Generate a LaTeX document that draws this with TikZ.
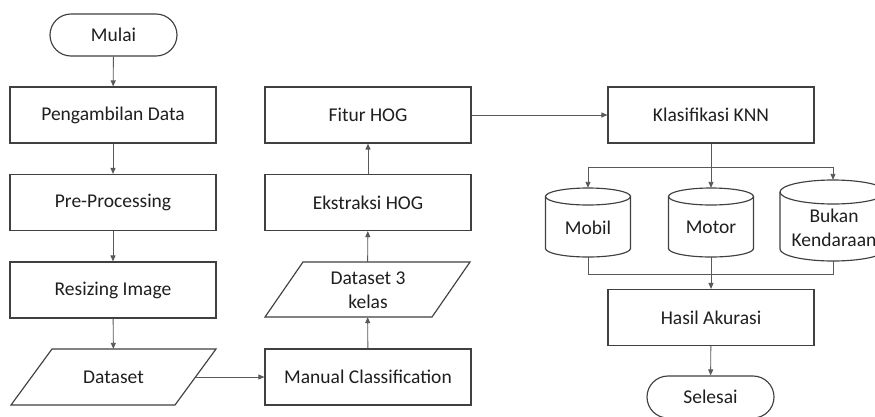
\documentclass[tikz,border=0pt]{standalone}
\usepackage{fontspec}
\setmainfont{Carlito}
\usetikzlibrary{arrows.meta,calc}
\newcommand\mycyl[5]{%
  \draw[boxline] (#1,#3+#5) ellipse ({#2} and {#5});
  \draw[boxline] (#1-#2,#3+#5) -- (#1-#2,#4-#5)
    .. controls (#1-#2,#4-#5+0.5523*#5) and (#1-0.5523*#2,#4) .. (#1,#4)
    .. controls (#1+0.5523*#2,#4) and (#1+#2,#4-#5+0.5523*#5) .. (#1+#2,#4-#5)
    -- (#1+#2,#3+#5);}
\tikzset{
  boxline/.style={draw=black!75, line width=1.15pt},
  proc/.style={boxline, rectangle, minimum width=206pt, minimum height=56pt, inner sep=0pt, text=black!88},
  term/.style={boxline, rectangle, rounded corners=21pt, minimum width=127pt, minimum height=42pt, inner sep=0pt, text=black!88},
  anchorbox/.style={draw=none, rectangle, inner sep=0pt},
  lbl/.style={text=black!88, inner sep=0pt, align=center},
  conn/.style={draw=black!65, line width=0.9pt},
  arr/.style={conn, -{Triangle[length=6pt,width=5pt]}},
}
\begin{document}
\begin{tikzpicture}[x=1pt,y=-1pt,font=\fontsize{19.5}{24}\selectfont]
\useasboundingbox (0,0) rectangle (875,416);
\clip (0,0) rectangle (875,416);
\fill[white] (0,0) rectangle (875,416);

% left column
\node[term] (mulai) at (113.5,35) {Mulai};
\node[proc] (ambil) at (113,115) {Pengambilan Data};
\node[proc] (pre) at (113,202.5) {Pre-Processing};
\node[proc] (resize) at (113,290) {Resizing Image};
\node[anchorbox, minimum width=164pt, minimum height=56pt] (dataset) at (113.5,377) {};
\draw[boxline] (11,405) -- (175,405) -- (216,349) -- (52,349) -- cycle;
\node[lbl] (datasettxt) at (113.5,377) {Dataset};

% middle column
\node[proc] (manual) at (368,377) {Manual Classification};
\node[anchorbox, minimum width=167pt, minimum height=55pt] (ds3) at (367.5,289.5) {};
\draw[boxline] (265,317) -- (432,317) -- (470,262) -- (303,262) -- cycle;
\node[lbl] (ds3txt) at (368,290) {Dataset 3\\kelas};
\node[proc] (ekstraksi) at (368,202.5) {Ekstraksi HOG};
\node[proc] (fitur) at (368,115) {Fitur HOG};

% right column
\node[proc] (knn) at (711,115) {Klasifikasi KNN};
\node[anchorbox, minimum width=85pt, minimum height=69pt] (mobil) at (588,222.5) {};
\node[anchorbox, minimum width=85pt, minimum height=69pt] (motor) at (711,222.5) {};
\node[anchorbox, minimum width=106pt, minimum height=81pt] (bukan) at (833,220.5) {};
\mycyl{588}{42.5}{188}{257}{8.5}
\mycyl{711}{42.5}{188}{257}{8.5}
\mycyl{833}{53}{180}{261}{12}
\node[lbl] (mobiltxt) at (588,228) {Mobil};
\node[lbl] (motortxt) at (711,227) {Motor};
\node[lbl] (bukantxt) at (834,228) {Bukan\\Kendaraan};
\node[proc] (hasil) at (711,317.5) {Hasil Akurasi};
\node[term] (selesai) at (710.5,397) {Selesai};

\coordinate (br) at (711,167);
\coordinate (mg) at (711,274);

% connectors
\draw[arr] (mulai) -- (ambil);
\draw[arr] (ambil) -- (pre);
\draw[arr] (pre) -- (resize);
\draw[arr] (resize) -- (dataset);
\draw[arr] (dataset.east) -- (manual.west);
\draw[arr] (manual) -- (ds3);
\draw[arr] (ds3) -- (ekstraksi);
\draw[arr] (ekstraksi) -- (fitur);
\draw[arr] (fitur.east) -- (knn.west);
\draw[conn] (knn.south) -- (br);
\draw[arr] (br) -| (mobil.north);
\draw[arr] (br) -- (motor.north);
\draw[arr] (br) -| (bukan.north);
\draw[conn] (mobil.south) |- (mg);
\draw[conn] (bukan.south) |- (mg);
\draw[arr] (motor.south) -- (hasil.north);
\draw[arr] (hasil) -- (selesai);
\end{tikzpicture}
\end{document}
